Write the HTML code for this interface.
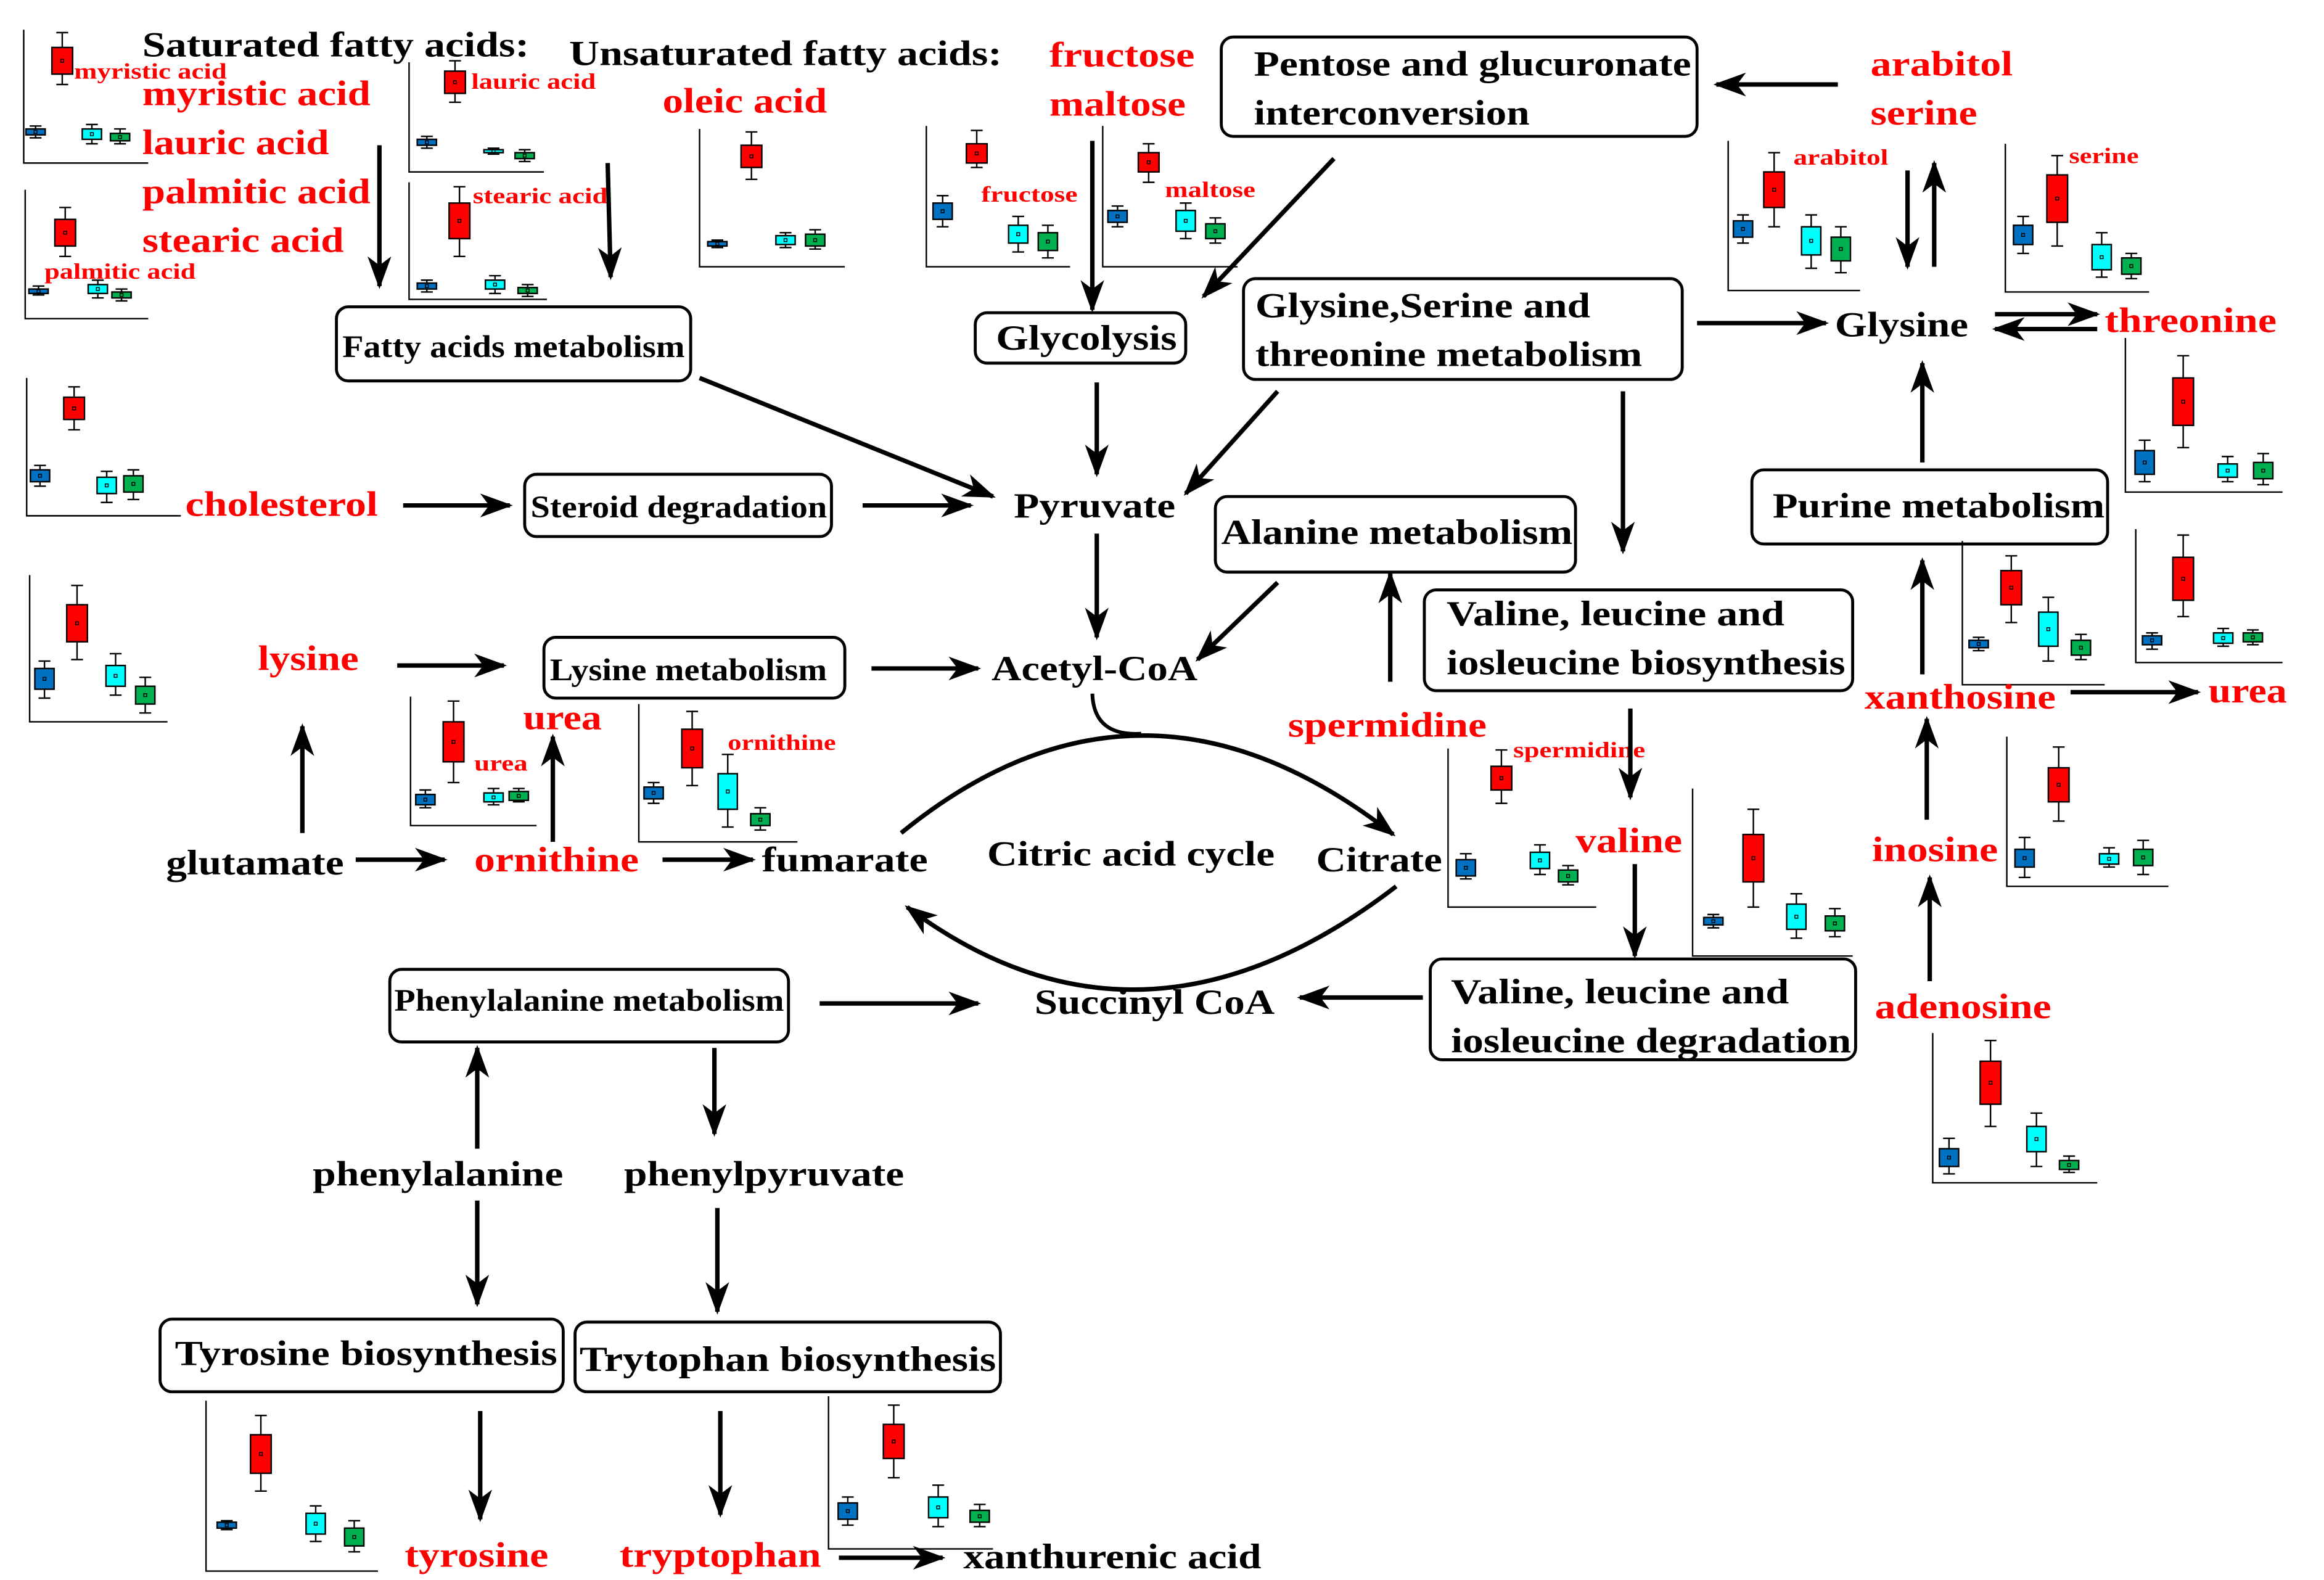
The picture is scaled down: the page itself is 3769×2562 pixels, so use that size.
<!DOCTYPE html>
<html><head><meta charset="utf-8">
<style>
html,body{margin:0;padding:0;background:#fff;}
svg{display:block;}
text{font-family:"Liberation Serif",serif;font-weight:bold;}
.k{fill:#000;font-size:24px;}
.r{fill:#ff0000;font-size:24px;}
.s{fill:#ff0000;font-size:15px;}
.b{fill:#000;font-size:21px;}
.bx{fill:none;stroke:#000;stroke-width:2;}
.a{stroke:#000;stroke-width:3;fill:none;marker-end:url(#ah);}
</style></head>
<body>
<svg id="sv" width="3769" height="2562" viewBox="0 0 1568 1066" preserveAspectRatio="none" xmlns="http://www.w3.org/2000/svg">
<defs>
<marker id="ah" markerUnits="userSpaceOnUse" markerWidth="24" markerHeight="16" refX="20" refY="8" orient="auto">
<path d="M0,0 L22,8 L0,16 L6,8 Z" fill="#000"/>
</marker>
</defs>
<g id="charts"></g>

<g lengthAdjust="spacingAndGlyphs">
<text class="k" x="96" y="38" textLength="261" lengthAdjust="spacingAndGlyphs">Saturated fatty acids:</text>
<text class="k" x="384" y="44" textLength="292" lengthAdjust="spacingAndGlyphs">Unsaturated fatty acids:</text>
<text class="r" x="96" y="71" textLength="154" lengthAdjust="spacingAndGlyphs">myristic acid</text>
<text class="r" x="96" y="104" textLength="126" lengthAdjust="spacingAndGlyphs">lauric acid</text>
<text class="r" x="96" y="137" textLength="154" lengthAdjust="spacingAndGlyphs">palmitic acid</text>
<text class="r" x="96" y="170" textLength="136" lengthAdjust="spacingAndGlyphs">stearic acid</text>
<text class="s" x="50" y="53" textLength="103" lengthAdjust="spacingAndGlyphs">myristic acid</text>
<text class="s" x="30" y="188" textLength="102" lengthAdjust="spacingAndGlyphs">palmitic acid</text>
<text class="s" x="318" y="60" textLength="84" lengthAdjust="spacingAndGlyphs">lauric acid</text>
<text class="s" x="319" y="137" textLength="91" lengthAdjust="spacingAndGlyphs">stearic acid</text>
<text class="r" x="447" y="76" textLength="111" lengthAdjust="spacingAndGlyphs">oleic acid</text>
<text class="r" x="708" y="45" textLength="98" lengthAdjust="spacingAndGlyphs">fructose</text>
<text class="r" x="708" y="78" textLength="92" lengthAdjust="spacingAndGlyphs">maltose</text>
<text class="s" x="662" y="136" textLength="65" lengthAdjust="spacingAndGlyphs">fructose</text>
<text class="s" x="786" y="133" textLength="61" lengthAdjust="spacingAndGlyphs">maltose</text>
<rect class="bx" x="824" y="25" width="321" height="67" rx="8"/>
<text class="k" x="846" y="51" textLength="295" lengthAdjust="spacingAndGlyphs">Pentose and glucuronate</text>
<text class="k" x="846" y="84" textLength="186" lengthAdjust="spacingAndGlyphs">interconversion</text>
<text class="r" x="1262" y="51" textLength="96" lengthAdjust="spacingAndGlyphs">arabitol</text>
<text class="r" x="1262" y="84" textLength="72" lengthAdjust="spacingAndGlyphs">serine</text>
<text class="s" x="1210" y="111" textLength="64" lengthAdjust="spacingAndGlyphs">arabitol</text>
<text class="s" x="1396" y="110" textLength="47" lengthAdjust="spacingAndGlyphs">serine</text>
<rect class="bx" x="227" y="207" width="239" height="50" rx="8"/>
<text class="b" x="231" y="241" textLength="231" lengthAdjust="spacingAndGlyphs">Fatty acids metabolism</text>
<rect class="bx" x="658" y="211" width="142" height="34" rx="8"/>
<text class="k" x="672" y="236" textLength="122" lengthAdjust="spacingAndGlyphs">Glycolysis</text>
<rect class="bx" x="839" y="188" width="296" height="68" rx="8"/>
<text class="k" x="847" y="214" textLength="226" lengthAdjust="spacingAndGlyphs">Glysine,Serine and</text>
<text class="k" x="847" y="247" textLength="261" lengthAdjust="spacingAndGlyphs">threonine metabolism</text>
<text class="k" x="1238" y="227" textLength="90" lengthAdjust="spacingAndGlyphs">Glysine</text>
<text class="r" x="1420" y="224" textLength="116" lengthAdjust="spacingAndGlyphs">threonine</text>
<rect class="bx" x="354" y="320" width="207" height="42" rx="8"/>
<text class="b" x="358" y="349" textLength="200" lengthAdjust="spacingAndGlyphs">Steroid degradation</text>
<text class="r" x="125" y="348" textLength="130" lengthAdjust="spacingAndGlyphs">cholesterol</text>
<text class="k" x="684" y="349" textLength="109" lengthAdjust="spacingAndGlyphs">Pyruvate</text>
<rect class="bx" x="820" y="335" width="243" height="51" rx="8"/>
<text class="k" x="824" y="367" textLength="237" lengthAdjust="spacingAndGlyphs">Alanine metabolism</text>
<rect class="bx" x="1182" y="317" width="240" height="50" rx="8"/>
<text class="k" x="1196" y="349" textLength="224" lengthAdjust="spacingAndGlyphs">Purine metabolism</text>
<rect class="bx" x="961" y="398" width="289" height="68" rx="8"/>
<text class="k" x="976" y="422" textLength="228" lengthAdjust="spacingAndGlyphs">Valine, leucine and</text>
<text class="k" x="976" y="455" textLength="269" lengthAdjust="spacingAndGlyphs">iosleucine biosynthesis</text>
<text class="r" x="174" y="452" textLength="68" lengthAdjust="spacingAndGlyphs">lysine</text>
<rect class="bx" x="367" y="430" width="203" height="41" rx="8"/>
<text class="b" x="371" y="459" textLength="187" lengthAdjust="spacingAndGlyphs">Lysine metabolism</text>
<text class="k" x="669" y="459" textLength="139" lengthAdjust="spacingAndGlyphs">Acetyl-CoA</text>
<text class="r" x="1258" y="478" textLength="129" lengthAdjust="spacingAndGlyphs">xanthosine</text>
<text class="r" x="1490" y="474" textLength="53" lengthAdjust="spacingAndGlyphs">urea</text>
<text class="r" x="869" y="497" textLength="134" lengthAdjust="spacingAndGlyphs">spermidine</text>
<text class="s" x="1021" y="511" textLength="89" lengthAdjust="spacingAndGlyphs">spermidine</text>
<text class="r" x="353" y="492" textLength="53" lengthAdjust="spacingAndGlyphs">urea</text>
<text class="s" x="320" y="520" textLength="36" lengthAdjust="spacingAndGlyphs">urea</text>
<text class="s" x="491" y="506" textLength="73" lengthAdjust="spacingAndGlyphs">ornithine</text>
<text class="k" x="112" y="590" textLength="120" lengthAdjust="spacingAndGlyphs">glutamate</text>
<text class="r" x="320" y="588" textLength="111" lengthAdjust="spacingAndGlyphs">ornithine</text>
<text class="k" x="514" y="588" textLength="112" lengthAdjust="spacingAndGlyphs">fumarate</text>
<text class="k" x="666" y="584" textLength="194" lengthAdjust="spacingAndGlyphs">Citric acid cycle</text>
<text class="k" x="888" y="588" textLength="85" lengthAdjust="spacingAndGlyphs">Citrate</text>
<text class="r" x="1063" y="575" textLength="72" lengthAdjust="spacingAndGlyphs">valine</text>
<text class="r" x="1263" y="581" textLength="85" lengthAdjust="spacingAndGlyphs">inosine</text>
<rect class="bx" x="263" y="654" width="269" height="49" rx="8"/>
<text class="b" x="266" y="682" textLength="263" lengthAdjust="spacingAndGlyphs">Phenylalanine metabolism</text>
<text class="k" x="698" y="684" textLength="162" lengthAdjust="spacingAndGlyphs">Succinyl CoA</text>
<rect class="bx" x="965" y="647" width="287" height="68" rx="8"/>
<text class="k" x="979" y="677" textLength="228" lengthAdjust="spacingAndGlyphs">Valine, leucine and</text>
<text class="k" x="979" y="710" textLength="270" lengthAdjust="spacingAndGlyphs">iosleucine degradation</text>
<text class="r" x="1265" y="687" textLength="119" lengthAdjust="spacingAndGlyphs">adenosine</text>
<text class="k" x="211" y="800" textLength="169" lengthAdjust="spacingAndGlyphs">phenylalanine</text>
<text class="k" x="421" y="800" textLength="189" lengthAdjust="spacingAndGlyphs">phenylpyruvate</text>
<rect class="bx" x="108" y="890" width="272" height="49" rx="8"/>
<text class="k" x="118" y="921" textLength="258" lengthAdjust="spacingAndGlyphs">Tyrosine biosynthesis</text>
<rect class="bx" x="388" y="892" width="287" height="47" rx="8"/>
<text class="k" x="391" y="925" textLength="281" lengthAdjust="spacingAndGlyphs">Trytophan biosynthesis</text>
<text class="r" x="273" y="1057" textLength="97" lengthAdjust="spacingAndGlyphs">tyrosine</text>
<text class="r" x="418" y="1057" textLength="136" lengthAdjust="spacingAndGlyphs">tryptophan</text>
<text class="k" x="650" y="1058" textLength="201" lengthAdjust="spacingAndGlyphs">xanthurenic acid</text>
</g>

<path class="a" d="M256,98 L256,193"/>
<path class="a" d="M410,110 L412,187"/>
<path class="a" d="M737,95 L737,209"/>
<path class="a" d="M900,107 L812,200"/>
<path class="a" d="M1240,57 L1158,57"/>
<path class="a" d="M472,255 L670,335"/>
<path class="a" d="M272,341 L344,341"/>
<path class="a" d="M582,341 L655,341"/>
<path class="a" d="M740,258 L740,320"/>
<path class="a" d="M862,264 L800,333"/>
<path class="a" d="M740,360 L740,430"/>
<path class="a" d="M862,393 L808,445"/>
<path class="a" d="M1095,264 L1095,372"/>
<path class="a" d="M1145,218 L1232,218"/>
<path class="a" d="M1287,115 L1287,180"/>
<path class="a" d="M1305,180 L1305,110"/>
<path class="a" d="M1346,212 L1415,212"/>
<path class="a" d="M1415,222 L1346,222"/>
<path class="a" d="M1297,312 L1297,245"/>
<path class="a" d="M1297,455 L1297,378"/>
<path class="a" d="M1397,467 L1483,467"/>
<path class="a" d="M1300,553 L1300,485"/>
<path class="a" d="M1302,662 L1302,592"/>
<path class="a" d="M938,460 L938,387"/>
<path class="a" d="M1100,478 L1100,538"/>
<path class="a" d="M1103,583 L1103,645"/>
<path class="a" d="M960,673 L877,673"/>
<path class="a" d="M553,677 L660,677"/>
<path class="a" d="M268,449 L340,449"/>
<path class="a" d="M588,451 L660,451"/>
<path class="a" d="M204,562 L204,490"/>
<path class="a" d="M240,580 L300,580"/>
<path class="a" d="M447,580 L508,580"/>
<path class="a" d="M373,568 L373,497"/>
<path class="a" d="M322,775 L322,707"/>
<path class="a" d="M482,707 L482,765"/>
<path class="a" d="M322,810 L322,880"/>
<path class="a" d="M484,815 L484,885"/>
<path class="a" d="M324,952 L324,1025"/>
<path class="a" d="M486,952 L486,1022"/>
<path class="a" d="M566,1051 L636,1051"/>
<path d="M737,468 Q738,497 770,495" stroke="#000" stroke-width="2.5" fill="none"/>
<path class="a" d="M608,562 Q770,430 940,563"/>
<path class="a" d="M942,598 Q770,730 612,612"/>
</svg>
<script>
var C=[
[16,20,110,100,[[24,87,91,85,93],[42,32,50,22,57],[62,87,94,84,97],[81,90,95,87,97]]],
[17,128,215,100,[[26,195,198,193,199],[44,148,166,140,173],[66,192,198,189,201],[82,197,201,195,203]]],
[276,42,116,367,[[288,94,98,92,100],[307,48,63,41,69],[333,101,103,100,104],[354,103,107,101,109]]],
[276,123,202,369,[[288,191,195,189,197],[310,137,161,126,173],[334,189,195,186,198],[356,194,198,192,200]]],
[472,87,180,570,[[484,163,166,162,167],[507,98,113,89,121],[530,159,165,157,167],[550,158,166,155,168]]],
[18,255,348,122,[[27,317,325,314,328],[50,268,283,261,290],[72,322,333,318,339],[90,321,332,317,337]]],
[20,388,487,113,[[30,451,465,446,471],[52,408,433,395,445],[78,449,463,441,469],[98,463,475,457,481]]],
[625,85,180,722,[[636,137,148,132,153],[659,97,110,88,113],[687,152,164,146,170],[707,157,169,152,174]]],
[744,85,180,835,[[754,142,150,139,153],[775,103,116,97,123],[800,142,156,137,161],[820,151,161,147,164]]],
[277,470,557,362,[[287,536,543,533,545],[306,487,514,473,528],[333,535,541,532,543],[350,534,540,532,541]]],
[431,475,568,538,[[441,531,539,528,542],[467,492,518,480,530],[491,522,546,509,558],[513,549,557,545,560]]],
[1166,95,196,1255,[[1176,149,160,145,164],[1197,116,140,103,153],[1222,153,172,145,181],[1242,160,176,153,184]]],
[1353,97,197,1450,[[1365,152,165,146,171],[1388,118,150,105,166],[1418,165,182,157,187],[1438,174,185,171,188]]],
[1434,228,332,1540,[[1447,304,320,297,325],[1473,255,287,240,302],[1503,313,322,308,325],[1527,312,323,306,327]]],
[1324,365,462,1420,[[1335,432,437,430,439],[1357,385,408,375,420],[1382,413,436,403,446],[1404,432,442,428,445]]],
[1441,357,447,1540,[[1452,429,435,427,438],[1473,376,405,361,416],[1500,427,434,424,436],[1520,427,433,425,435]]],
[1354,497,598,1463,[[1366,573,585,565,592],[1389,518,541,504,554],[1423,576,583,572,585],[1446,573,584,567,590]]],
[1304,697,798,1415,[[1315,775,787,768,792],[1343,716,745,702,760],[1374,760,777,751,787],[1396,783,789,780,791]]],
[977,505,612,1077,[[989,580,591,576,593],[1013,517,533,506,542],[1039,575,586,570,590],[1058,587,595,584,597]]],
[1142,532,645,1250,[[1156,619,624,617,626],[1183,563,595,546,612],[1212,610,627,603,633],[1238,618,628,613,632]]],
[139,945,1060,255,[[153,1027,1031,1026,1032],[176,968,994,955,1006],[213,1021,1035,1016,1040],[239,1031,1043,1026,1047]]],
[559,942,1045,670,[[572,1014,1025,1010,1029],[603,961,984,948,997],[633,1010,1024,1002,1030],[661,1019,1027,1015,1030]]]
];
var cols=["#0070c0","#ff0000","#00ffff","#00b050"];
var s="";
C.forEach(function(c){
 s+='<path d="M'+c[0]+','+c[1]+' L'+c[0]+','+c[2]+' L'+c[3]+','+c[2]+'" stroke="#000" stroke-width="1" fill="none"/>';
 c[4].forEach(function(b,i){
  var w=(i==1)?7:6.5;
  s+='<path d="M'+b[0]+','+b[3]+' L'+b[0]+','+b[4]+' M'+(b[0]-4)+','+b[3]+' L'+(b[0]+4)+','+b[3]+' M'+(b[0]-4)+','+b[4]+' L'+(b[0]+4)+','+b[4]+'" stroke="#000" stroke-width="1"/>';
  s+='<rect x="'+(b[0]-w)+'" y="'+b[1]+'" width="'+(2*w)+'" height="'+Math.max(b[2]-b[1],2)+'" fill="'+cols[i]+'" stroke="#000" stroke-width="1"/>';
  s+='<rect x="'+(b[0]-1)+'" y="'+((b[1]+b[2])/2-1)+'" width="2" height="2" fill="none" stroke="#000" stroke-width="0.6"/>';
 });
});
document.getElementById("charts").innerHTML=s;
</script>
</body></html>
